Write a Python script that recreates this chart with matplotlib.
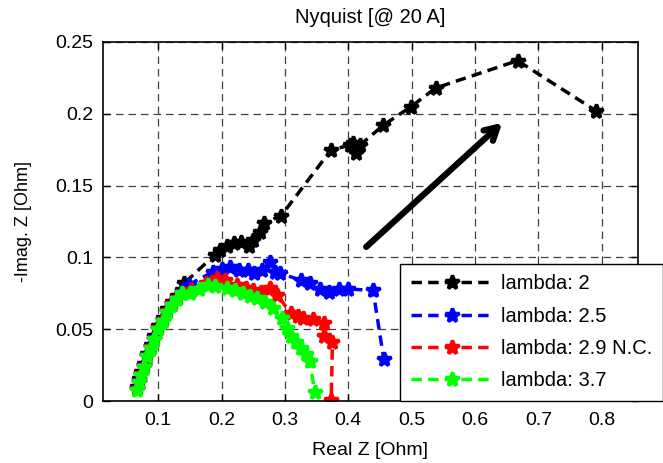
import matplotlib
matplotlib.use("Agg")
import matplotlib.pyplot as plt

plt.rcParams['font.family'] = ['Liberation Sans', 'DejaVu Sans']

# shared low-frequency path
low_x = [0.067, 0.070, 0.073, 0.077, 0.082, 0.088, 0.094, 0.100, 0.107, 0.114, 0.122, 0.130, 0.138]
low_y = [0.008, 0.013, 0.018, 0.024, 0.031, 0.037, 0.043, 0.050, 0.056, 0.062, 0.067, 0.071, 0.075]

black_x = low_x + [0.141, 0.190, 0.198, 0.209, 0.220, 0.230, 0.243, 0.250, 0.261, 0.267, 0.294,
                   0.373, 0.402, 0.408, 0.412, 0.418, 0.455, 0.499, 0.538, 0.667, 0.791]
black_y = [v + 0.002 for v in low_y] + [0.082, 0.102, 0.105, 0.108, 0.110, 0.111, 0.108, 0.112, 0.118, 0.124, 0.129,
                   0.175, 0.178, 0.180, 0.173, 0.178, 0.192, 0.205, 0.218, 0.237, 0.202]

blue_x = low_x + [0.148, 0.187, 0.200, 0.214, 0.228, 0.241, 0.252, 0.264, 0.277, 0.285, 0.293,
                  0.325, 0.340, 0.355, 0.370, 0.385, 0.400, 0.439, 0.456]
blue_y = [v + 0.001 for v in low_y] + [0.081, 0.090, 0.092, 0.093, 0.091, 0.091, 0.089, 0.091, 0.097, 0.090, 0.089,
                  0.084, 0.082, 0.078, 0.076, 0.078, 0.078, 0.077, 0.029]

red_x = low_x + [0.152, 0.175, 0.193, 0.205, 0.225, 0.238, 0.250, 0.262, 0.277, 0.288, 0.309,
                 0.320, 0.329, 0.345, 0.361, 0.362, 0.375, 0.373]
red_y = [v + 0.0005 for v in low_y] + [0.077, 0.082, 0.086, 0.084, 0.081, 0.079, 0.077, 0.076, 0.079, 0.074, 0.061,
                 0.059, 0.058, 0.057, 0.054, 0.045, 0.041, 0.001]

green_x = low_x + [0.150, 0.165, 0.179, 0.190, 0.209, 0.222, 0.234, 0.245, 0.256, 0.268, 0.281,
                   0.295, 0.304, 0.310, 0.318, 0.326, 0.333, 0.339, 0.347]
green_y = low_y + [0.075, 0.078, 0.081, 0.080, 0.079, 0.077, 0.075, 0.073, 0.072, 0.069, 0.065,
                   0.058, 0.051, 0.045, 0.041, 0.037, 0.033, 0.028, 0.006]

labels = ['lambda: 2', 'lambda: 2.5', 'lambda: 2.9 N.C.', 'lambda: 3.7']
colors = ['black', '#0000ff', '#ff0000', '#00ff00']
series = [(black_x, black_y), (blue_x, blue_y), (red_x, red_y), (green_x, green_y)]

xticks = [0.1, 0.2, 0.3, 0.4, 0.5, 0.6, 0.7, 0.8]
xticklabels = ['0.1', '0.2', '0.3', '0.4', '0.5', '0.6', '0.7', '0.8']
yticks = [0, 0.05, 0.1, 0.15, 0.2, 0.25]
yticklabels = ['0', '0.05', '0.1', '0.15', '0.2', '0.25']

fig = plt.figure(figsize=(6.63, 4.63), dpi=100)
ax = fig.add_axes([103/663, 1 - 401/463, 535/663, 359/463])

for (xs, ys), c, lab in zip(series, colors, labels):
    ax.plot(xs, ys, linestyle=(0, (3, 1.8)), linewidth=2.5, color=c,
            marker='*', markersize=10, markeredgewidth=2.5, label=lab)

ax.set_xlim(0.013, 0.857)
ax.set_ylim(0, 0.25)
ax.set_xticks(xticks)
ax.set_xticklabels(xticklabels)
ax.set_yticks(yticks)
ax.set_yticklabels(yticklabels)
ax.tick_params(direction='in', top=True, right=True, length=5, width=1, labelsize=14)
ax.tick_params(axis='x', pad=8)
ax.tick_params(axis='y', pad=7)
ax.grid(True, linestyle=(0, (6, 4)), color='0.25', linewidth=0.9)
for s in ax.spines.values():
    s.set_linewidth(1.2)

ax.set_title('Nyquist [@ 20 A]', fontsize=14.5, pad=14)
ax.set_xlabel('Real Z [Ohm]', fontsize=14, labelpad=9)
ax.set_ylabel('-Imag. Z [Ohm]', fontsize=13, labelpad=17)

ax.annotate('', xy=(0.646, 0.195), xytext=(0.425, 0.106),
            arrowprops=dict(arrowstyle='->,head_length=0.9,head_width=0.5', lw=4.5, color='black'))

leg = ax.legend(loc='lower left', bbox_to_anchor=(0.555, 0.0), fontsize=14.5, numpoints=1,
                handlelength=4.1, handletextpad=0.4, labelspacing=0.66, borderpad=0.53,
                fancybox=False, framealpha=1, edgecolor='black', borderaxespad=0)
leg.get_frame().set_linewidth(1.0)

fig.savefig('out.png', dpi=100)
